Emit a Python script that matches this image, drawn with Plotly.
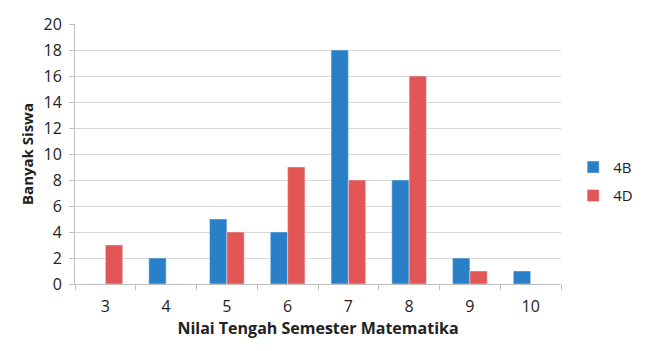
import plotly.graph_objects as go

categories = ["3", "4", "5", "6", "7", "8", "9", "10"]
series_4b = [0, 2, 5, 4, 18, 8, 2, 1]
series_4d = [3, 0, 4, 9, 8, 16, 1, 0]
y_ticks = [0, 2, 4, 6, 8, 10, 12, 14, 16, 18, 20]

BLUE = "#2A80C6"
RED = "#E25656"

fig = go.Figure()
fig.add_trace(go.Bar(x=categories, y=series_4b, name="4B", marker_color=BLUE, legendgroup="g1"))
fig.add_trace(go.Bar(x=categories, y=series_4d, name="4D", marker_color=RED, legendgroup="g2"))

font_fam = "Open Sans, Lato, sans-serif"
fig.update_layout(
    width=650, height=351,
    margin=dict(l=75, r=80, t=24, b=67),
    paper_bgcolor="white", plot_bgcolor="white",
    barmode="group", bargap=0.43, bargroupgap=0,
    font=dict(family=font_fam, size=15, color="#222"),
    legend=dict(x=1.025, xanchor="left", y=0.395, yanchor="middle",
                font=dict(size=15, color="#222"), itemwidth=30,
                tracegroupgap=6, bgcolor="rgba(0,0,0,0)"),
    xaxis=dict(
        type="category", categoryorder="array", categoryarray=categories,
        showline=True, linecolor="#BFBFBF", linewidth=1,
        ticks="outside", tickson="boundaries", ticklen=5, tickcolor="#BFBFBF",
        ticklabelstandoff=8,
        tickfont=dict(size=16, color="#222"),
        title=dict(text="<b>Nilai Tengah Semester Matematika</b>",
                   font=dict(size=16, color="#222"), standoff=6),
        showgrid=False,
    ),
    yaxis=dict(
        range=[0, 20], tickvals=y_ticks,
        showline=True, linecolor="#BFBFBF", linewidth=1,
        ticks="outside", ticklen=5, tickcolor="#BFBFBF",
        ticklabelstandoff=4,
        showgrid=True, gridcolor="#D9D9D9", gridwidth=1,
        tickfont=dict(size=16, color="#222"),
        title=dict(text="<b>Banyak Siswa</b>", font=dict(size=15, color="#222"), standoff=6),
        zeroline=False,
    ),
)

fig.write_html("out.html")
